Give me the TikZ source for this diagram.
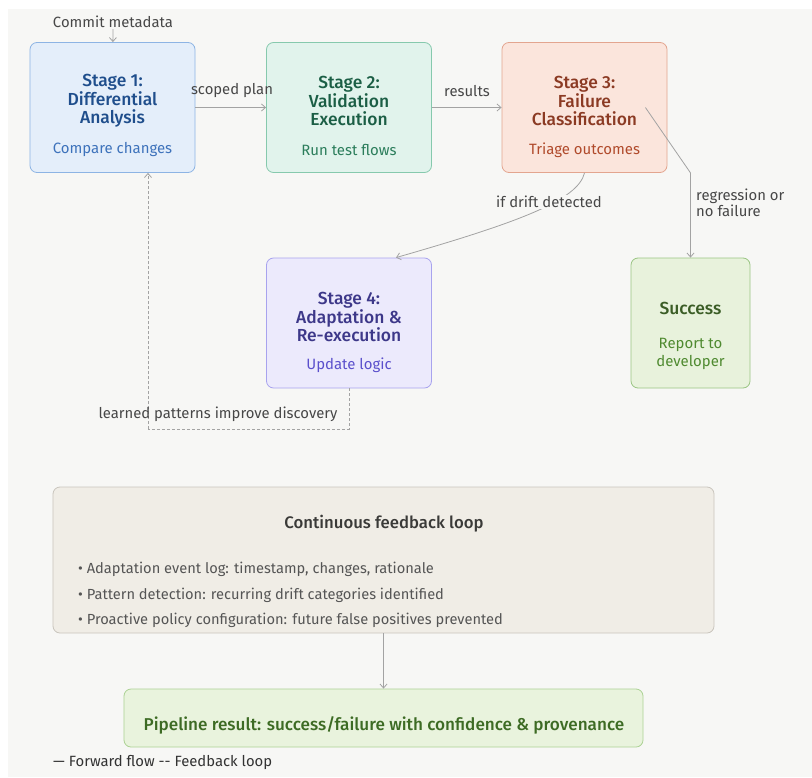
\documentclass[tikz,border=0pt]{standalone}
\usepackage{fontspec}
\setmainfont{Fira Sans}
\newfontfamily\headfont{Fira Sans Medium}
\usepackage{tikz}
\usetikzlibrary{arrows.meta,calc}

\definecolor{pagebg}{HTML}{F7F7F5}
\definecolor{flowgray}{HTML}{A3A3A3}
\definecolor{labelgray}{HTML}{474747}
\definecolor{sonefill}{HTML}{E4EEFA}\definecolor{soneline}{HTML}{8DB4E4}
\definecolor{sonehead}{HTML}{1F4E8C}\definecolor{sonetext}{HTML}{3D72BB}
\definecolor{stwofill}{HTML}{E1F3EC}\definecolor{stwoline}{HTML}{86C9AD}
\definecolor{stwohead}{HTML}{1B5E45}\definecolor{stwotext}{HTML}{2B7D5B}
\definecolor{sthreefill}{HTML}{FBE5DC}\definecolor{sthreeline}{HTML}{E3A58F}
\definecolor{sthreehead}{HTML}{8B3A23}\definecolor{sthreetext}{HTML}{B04A2B}
\definecolor{sfourfill}{HTML}{ECEAFC}\definecolor{sfourline}{HTML}{A8A3EE}
\definecolor{sfourhead}{HTML}{3D3889}\definecolor{sfourtext}{HTML}{5B50CC}
\definecolor{okfill}{HTML}{E8F2DC}\definecolor{okline}{HTML}{9AC583}
\definecolor{okhead}{HTML}{3B5D26}\definecolor{oktext}{HTML}{4F8A30}
\definecolor{fbfill}{HTML}{F0EDE6}\definecolor{fbline}{HTML}{C9C5BD}
\definecolor{fbhead}{HTML}{3A3A38}\definecolor{fbtext}{HTML}{555555}
\definecolor{pipefill}{HTML}{E9F3DD}\definecolor{pipeline}{HTML}{ACD294}
\definecolor{pipetext}{HTML}{3D6B24}

\begin{document}
\begin{tikzpicture}[x=1bp,y=-1bp,
    box/.style={draw, rounded corners=7bp, line width=0.8bp, inner sep=0pt},
    stagebox/.style={box, minimum width=165bp, minimum height=130bp},
    title/.style={font=\headfont\fontsize{17.5}{18.5}\selectfont, align=center, inner sep=0pt},
    sub/.style={font=\fontsize{15}{17.5}\selectfont, align=center, inner sep=0pt},
    lbl/.style={font=\fontsize{14.9}{16.5}\selectfont, text=labelgray, inner sep=1bp},
    flow/.style={draw=flowgray, line width=0.8bp, -{Straight Barb[length=4bp,width=7bp]}},
    feedline/.style={draw=flowgray, line width=0.8bp, dash pattern=on 3bp off 2bp}]
  \useasboundingbox (0,0) rectangle (812,778);
  \fill[pagebg] (8,9) rectangle (812,777);

  % Stages
  \def\toprow{107.5}
  \node[stagebox, fill=sonefill, draw=soneline] (s1) at (112.5,\toprow) {};
  \node[title, text=sonehead] (s1title) at (112.5,101) {Stage 1:\\Differential\\Analysis};
  \node[sub, text=sonetext] (s1sub) at (112.5,150) {Compare changes};

  \node[stagebox, fill=stwofill, draw=stwoline] (s2) at (349,\toprow) {};
  \node[title, text=stwohead] (s2title) at (349,101) {Stage 2:\\Validation\\Execution};
  \node[sub, text=stwotext] (s2sub) at (349,150) {Run test flows};

  \node[stagebox, fill=sthreefill, draw=sthreeline] (s3) at (584.5,\toprow) {};
  \node[title, text=sthreehead] (s3title) at (584.5,101) {Stage 3:\\Failure\\Classification};
  \node[sub, text=sthreetext] (s3sub) at (584.5,150) {Triage outcomes};

  \node[stagebox, fill=sfourfill, draw=sfourline] (s4) at (349,323) {};
  \node[title, text=sfourhead] (s4title) at (349,317) {Stage 4:\\Adaptation \&\\Re-execution};
  \node[sub, text=sfourtext] (s4sub) at (349,365) {Update logic};

  \node[stagebox, minimum width=119bp, fill=okfill, draw=okline] (s5) at (690.5,323) {};
  \node[title, text=okhead] (s5title) at (690.5,308) {Success};
  \node[sub, text=oktext] (s5sub) at (690.5,354) {Report to\\developer};

  % Forward flow
  \node[lbl] (commit) at (113,22) {Commit metadata};
  \draw[flow] (commit) -- (s1);
  \draw[flow] (s1) -- (s2);
  \node[lbl] (scoped) at (232,91) {scoped plan};
  \draw[flow] (s2) -- (s3);
  \node[lbl] (results) at (467,91) {results};
  \draw[flow] (s3.south) .. controls (578,200) and (520,222) .. ($(s4.north)+(47,0)$);
  \node[lbl, fill=pagebg] (drift) at (549,202) {if drift detected};
  \coordinate (bend) at (s5.north |- s3.south);
  \draw[flow] ($(s3.east)+(-22,0)$) -- (bend) -- (s5.north);
  \node[lbl, align=left, anchor=west] (regress) at (695,203) {regression or\\no failure};

  % Feedback loop
  \coordinate (loopcorner) at (148,429);
  \draw[feedline] (s4.south) |- (loopcorner);
  \draw[feedline, -{Straight Barb[length=4bp,width=7bp]}] (loopcorner) -- (loopcorner |- s1.south);
  \node[lbl] (learned) at (218,414) {learned patterns improve discovery};

  \node[box, fill=fbfill, draw=fbline, minimum width=661bp, minimum height=146bp] (fb) at (383.5,560) {};
  \node[font=\headfont\fontsize{16.8}{20}\selectfont, text=fbhead] (fbtitle) at (384,524) {Continuous feedback loop};
  \node[font=\fontsize{14.7}{25.5}\selectfont, text=fbtext, align=left, anchor=west, inner sep=0pt] (fblist) at (78,595)
    {• Adaptation event log: timestamp, changes, rationale\\
     • Pattern detection: recurring drift categories identified\\
     • Proactive policy configuration: future false positives prevented};

  \node[box, fill=pipefill, draw=pipeline, minimum width=519bp, minimum height=58bp] (pipe) at (383.5,718) {};
  \node[font=\headfont\fontsize{17.2}{20}\selectfont, text=pipetext, inner sep=0pt] (pipelabel) at (384,725)
    {Pipeline result: success/failure with confidence \& provenance};
  \draw[flow] (fb) -- (pipe);

  % Legend
  \node[lbl, anchor=west, text=black!80] (legend) at (52,763) {— Forward flow -{}- Feedback loop};
\end{tikzpicture}
\end{document}
